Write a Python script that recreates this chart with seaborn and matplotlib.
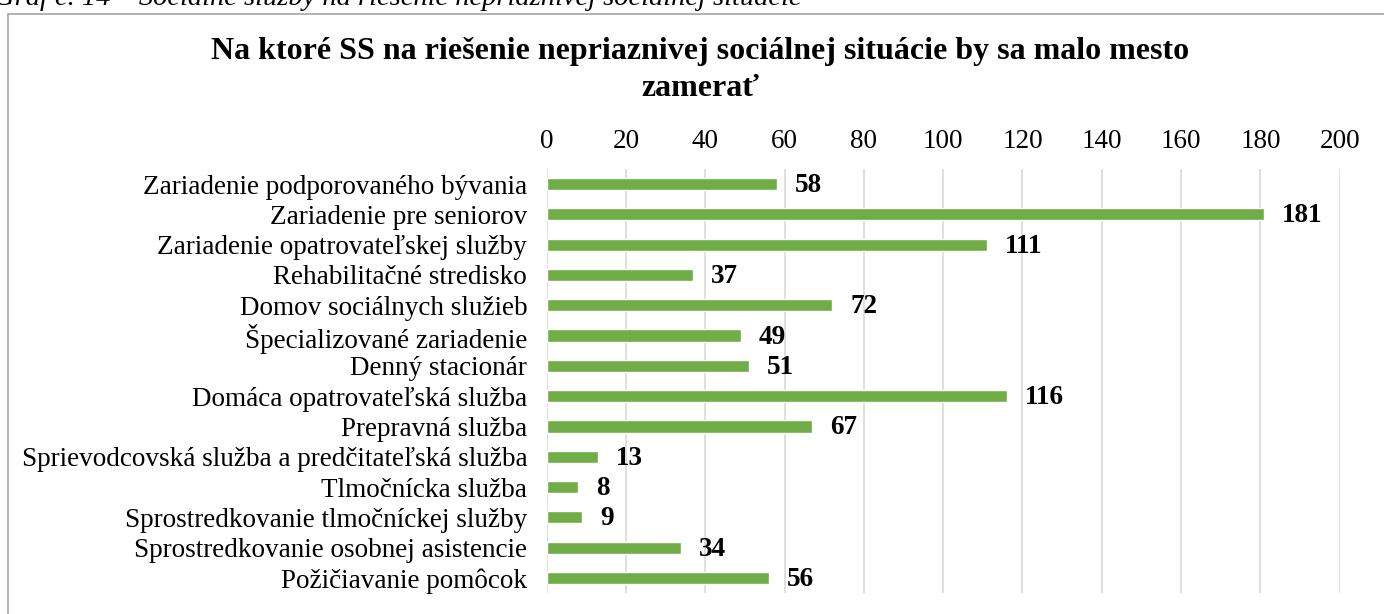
import matplotlib
matplotlib.use("Agg")
import matplotlib.pyplot as plt
import matplotlib.patches as patches
import pandas as pd
import seaborn as sns

categories = [
    "Zariadenie podporovaného bývania",
    "Zariadenie pre seniorov",
    "Zariadenie opatrovateľskej služby",
    "Rehabilitačné stredisko",
    "Domov sociálnych služieb",
    "Špecializované zariadenie",
    "Denný stacionár",
    "Domáca opatrovateľská služba",
    "Prepravná služba",
    "Sprievodcovská služba a predčitateľská služba",
    "Tlmočnícka služba",
    "Sprostredkovanie tlmočníckej služby",
    "Sprostredkovanie osobnej asistencie",
    "Požičiavanie pomôcok",
]
values = [58, 181, 111, 37, 72, 49, 51, 116, 67, 13, 8, 9, 34, 56]
x_ticks = [0, 20, 40, 60, 80, 100, 120, 140, 160, 180, 200]

df = pd.DataFrame({"kategoria": categories, "pocet": values})

sns.set_style("white")
plt.rcParams["font.family"] = ["Liberation Serif", "DejaVu Serif"]
plt.rcParams["text.color"] = "black"
plt.rcParams["xtick.color"] = "black"
plt.rcParams["ytick.color"] = "black"

fig = plt.figure(figsize=(13.84, 6.14), dpi=100)
ax = fig.add_axes([0.395, 0.034, 0.573, 0.691])

sns.barplot(data=df, x="pocet", y="kategoria", color="#70AD47",
            saturation=1, width=0.4, ax=ax, zorder=3)

ax.set_xlim(0, 200)
ax.set_xticks(x_ticks)
ax.xaxis.tick_top()
ax.tick_params(axis="both", length=0, labelsize=19.5)
ax.tick_params(axis="x", pad=11)
ax.tick_params(axis="y", pad=14)
ax.grid(axis="x", color="#D9D9D9", linewidth=1.2, zorder=0)
ax.grid(axis="y", visible=False)
for s in ax.spines.values():
    s.set_visible(False)
ax.set_xlabel("")
ax.set_ylabel("")

for i, v in enumerate(values):
    ax.text(v + 4.5, i + 0.05, str(v), va="center", ha="left",
            fontsize=19.5, fontweight="bold")

fig.text(0.506, 1 - 52 / 614, "Na ktoré SS na riešenie nepriaznivej sociálnej situácie by sa malo mesto",
         ha="center", va="center", fontsize=23, fontweight="bold")
fig.text(0.506, 1 - 88 / 614, "zamerať", ha="center", va="center",
         fontsize=23, fontweight="bold")

# caption above the chart frame, cut off at the top edge like in the source
fig.text(-0.004, 1 - 5 / 614, "Graf č. 14 – Sociálne služby na riešenie nepriaznivej sociálnej situácie",
         ha="left", va="baseline", fontsize=20.5, style="italic")

border = patches.Rectangle((8 / 1384, -0.05), 1.1, 1 - 14 / 614 + 0.05,
                           transform=fig.transFigure, fill=False,
                           edgecolor="#A6A6A6", linewidth=1.2, clip_on=False)
fig.patches.append(border)

fig.savefig("out.png", dpi=100)
